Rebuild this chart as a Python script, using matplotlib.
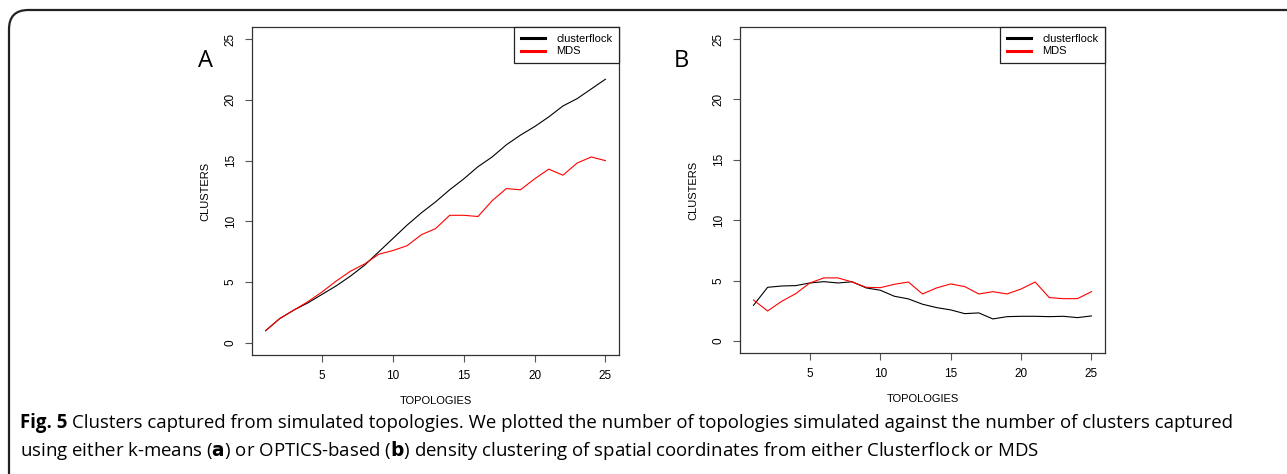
import numpy as np
import matplotlib
matplotlib.use("Agg")
from matplotlib import pyplot as plt
from matplotlib import font_manager
from matplotlib.patches import FancyBboxPatch

topologies = list(range(1, 26))

# panel A: k-means
a_clusterflock = [1.0, 2.0, 2.7, 3.3, 4.0, 4.7, 5.5, 6.4, 7.5, 8.6, 9.7, 10.7, 11.6,
                  12.6, 13.5, 14.5, 15.3, 16.3, 17.1, 17.8, 18.6, 19.5, 20.1, 20.9, 21.7]
a_mds = [1.0, 2.0, 2.7, 3.4, 4.2, 5.1, 5.9, 6.5, 7.3, 7.6, 8.0, 8.9, 9.4,
         10.5, 10.5, 10.4, 11.7, 12.7, 12.6, 13.5, 14.3, 13.8, 14.8, 15.3, 15.0]

# panel B: OPTICS
b_clusterflock = [2.95, 4.44, 4.55, 4.58, 4.8, 4.91, 4.8, 4.9, 4.39, 4.2, 3.7, 3.48, 3.04,
                  2.76, 2.57, 2.26, 2.32, 1.82, 2.01, 2.04, 2.04, 2.01, 2.04, 1.93, 2.07]
b_mds = [3.39, 2.48, 3.28, 3.92, 4.8, 5.22, 5.22, 4.88, 4.44, 4.41, 4.69, 4.88, 3.89,
         4.39, 4.72, 4.5, 3.89, 4.08, 3.89, 4.3, 4.88, 3.59, 3.5, 3.5, 4.08]

series_labels = ["clusterflock", "MDS"]
series_colors = ["black", "red"]
xticks = [5, 10, 15, 20, 25]
yticks = [0, 5, 10, 15, 20, 25]

cap_font = ["Open Sans", "DejaVu Sans"]
plt.rcParams["font.family"] = ["Liberation Sans", "DejaVu Sans"]

W, H = 1287, 474
fig = plt.figure(figsize=(W / 100, H / 100), dpi=100)

# rounded outer frame
frame = FancyBboxPatch((9 / W, -20 / H), 1.2, (H - 10 + 20) / H,
                       boxstyle="round,pad=0,rounding_size=0.015",
                       transform=fig.transFigure, fill=False, lw=1.6,
                       edgecolor="#222222", mutation_aspect=W / H)
fig.patches.append(frame)

panels = [
    ("A", [252, 27, 619, 355], a_clusterflock, a_mds, 206),
    ("B", [740, 27, 1105, 353], b_clusterflock, b_mds, 681),
]
for letter, (x0, y0, x1, y1), cf, mds, lx in panels:
    ax = fig.add_axes([x0 / W, 1 - y1 / H, (x1 - x0) / W, (y1 - y0) / H])
    ax.plot(topologies, cf, color=series_colors[0], lw=0.8, label=series_labels[0])
    ax.plot(topologies, mds, color=series_colors[1], lw=0.8, label=series_labels[1])
    ax.set_xlim(0.04, 25.96)
    ax.set_ylim(-1, 26)
    ax.set_xticks(xticks)
    ax.set_yticks(yticks)
    ax.tick_params(direction="out", length=5, width=0.8, color="#555555",
                   labelsize=8.5, pad=6)
    for lab in ax.get_yticklabels():
        lab.set_rotation(90)
        lab.set_va("center")
    for s in ax.spines.values():
        s.set_color("#333333")
        s.set_linewidth(0.9)
    ax.set_xlabel("TOPOLOGIES", fontsize=8, labelpad=10)
    ax.set_ylabel("CLUSTERS", fontsize=8, labelpad=10)
    leg = ax.legend(loc="upper right", borderaxespad=0, fontsize=8, fancybox=False,
                    handlelength=2.2, handletextpad=1.0, borderpad=0.6,
                    labelspacing=0.25, framealpha=1)
    leg.get_frame().set_edgecolor("#222222")
    leg.get_frame().set_linewidth(0.9)
    for h in leg.legend_handles:
        h.set_linewidth(2.2)
    fig.text(lx / W, 1 - 61 / H, letter, fontsize=17, ha="center", va="center",
             family=["Open Sans", "DejaVu Sans"])

cap_size = 13.4
t = fig.text(20 / W, 1 - 423 / H, "Fig. 5", fontsize=cap_size, fontweight="bold",
             va="center", family=cap_font)
fig.canvas.draw()
bb = t.get_window_extent()
fig.text((bb.x1 + 5) / W, 1 - 423 / H,
         "Clusters captured from simulated topologies. We plotted the number of topologies "
         "simulated against the number of clusters captured",
         fontsize=cap_size, va="center", family=cap_font)
fig.text(20 / W, 1 - 450 / H,
         "using either k-means ($\\mathbf{a}$) or OPTICS-based ($\\mathbf{b}$) density clustering "
         "of spatial coordinates from either Clusterflock or MDS",
         fontsize=cap_size, va="center", family=cap_font)

fig.savefig("out.png", dpi=100)
